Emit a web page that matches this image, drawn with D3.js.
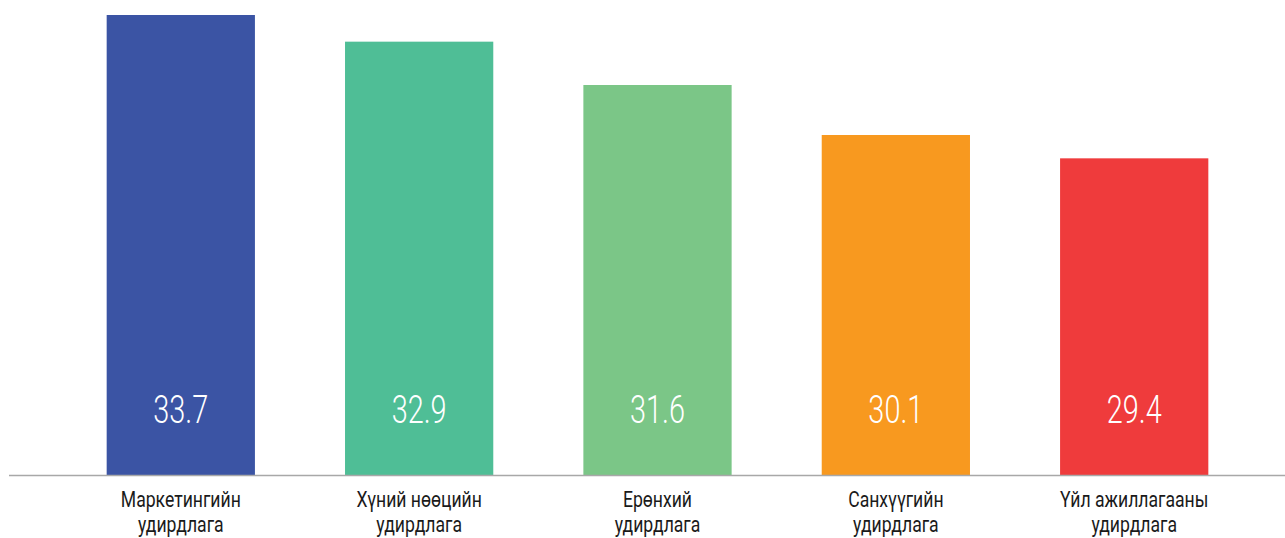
<!DOCTYPE html>
<html>
<head>
<meta charset="utf-8">
<script src="https://cdn.jsdelivr.net/npm/d3@7"></script>
<style>
  body { margin: 0; background: #fff; }
  svg { display: block; font-family: Roboto, "DejaVu Sans", sans-serif; }
</style>
</head>
<body>
<svg id="chart"></svg>
<script>
// data
const categories = [
  ["Маркетингийн", "удирдлага"],
  ["Хүний нөөцийн", "удирдлага"],
  ["Ерөнхий", "удирдлага"],
  ["Санхүүгийн", "удирдлага"],
  ["Үйл ажиллагааны", "удирдлага"]
];
const values = [33.7, 32.9, 31.6, 30.1, 29.4];
const colors = ["#3b54a4", "#4fbe96", "#7bc687", "#f8991f", "#ef3b3c"];

const width = 1285, height = 538;
const baseY = 475;

const svg = d3.select("#chart").attr("width", width).attr("height", height);

const x = d3.scaleBand()
    .domain(d3.range(values.length))
    .range([59, 1256])
    .paddingInner(0.378)
    .paddingOuter(0.2);

const y = d3.scaleLinear()
    .domain([19.9, 33.7])
    .range([baseY, 15]);

// bars
svg.selectAll("rect.bar").data(values)
  .enter().append("rect")
    .attr("class", "bar")
    .attr("x", (d, i) => x(i))
    .attr("y", d => y(d))
    .attr("width", x.bandwidth())
    .attr("height", d => baseY - y(d))
    .attr("fill", (d, i) => colors[i]);

// baseline
svg.append("line")
    .attr("x1", 9).attr("x2", width)
    .attr("y1", baseY + 0.5).attr("y2", baseY + 0.5)
    .attr("stroke", "#a8a8a8")
    .attr("stroke-width", 1.5);

// value labels inside bars
svg.selectAll("text.val").data(values)
  .enter().append("text")
    .attr("class", "val")
    .attr("transform", (d, i) => `translate(${x(i) + x.bandwidth() / 2},423) scale(0.76,1)`)
    .attr("text-anchor", "middle")
    .attr("fill", "#fff")
    .style("font-size", "38px")
    .style("font-weight", 300)
    .text(d => d.toFixed(1));

// category labels
const lab = svg.selectAll("g.cat").data(categories)
  .enter().append("g")
    .attr("class", "cat")
    .attr("transform", (d, i) => `translate(${x(i) + x.bandwidth() / 2},0)`);

lab.selectAll("text").data(d => d)
  .enter().append("text")
    .attr("transform", (d, j) => `translate(0,${507 + j * 25}) scale(0.8,1)`)
    .attr("text-anchor", "middle")
    .attr("fill", "#1a1a1a")
    .style("font-size", "22px")
    .text(d => d);
</script>
</body>
</html>
